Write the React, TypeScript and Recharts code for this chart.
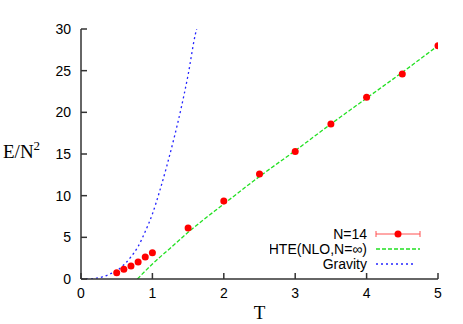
import {
  ComposedChart,
  Line,
  XAxis,
  YAxis,
  Legend,
} from 'recharts'

// lattice data, N=14
const T_N14 = [0.5, 0.6, 0.7, 0.8, 0.9, 1.0, 1.5, 2, 2.5, 3, 3.5, 4, 4.5, 5]
const E_N14 = [0.75, 1.16, 1.56, 2.04, 2.64, 3.16, 6.12, 9.36, 12.6, 15.3, 18.6, 21.8, 24.6, 28.0]

// high temperature expansion (NLO, N=inf)
const T_HTE = [0.79, 1.0, 1.25, 1.5, 2, 2.5, 3, 3.5, 4, 4.5, 5]
const E_HTE = [0, 1.8, 3.7, 5.6, 9.0, 12.3, 15.4, 18.6, 21.7, 24.8, 28.0]

// gravity prediction
const T_GRAV = [0, 0.1, 0.2, 0.3, 0.4, 0.5, 0.6, 0.7, 0.8, 0.9, 1.0, 1.1, 1.2, 1.3, 1.4, 1.5, 1.6, 1.62]
const E_GRAV = [0, 0.01, 0.08, 0.26, 0.58, 1.0, 1.7, 2.65, 3.9, 5.7, 7.8, 10.5, 13.5, 16.8, 20.4, 24.5, 29.3, 30]

const X_TICKS = [0, 1, 2, 3, 4, 5]
const Y_TICKS = [0, 5, 10, 15, 20, 25, 30]

const zip = (ts: number[], es: number[]) => ts.map((t, i) => ({ t, e: es[i] }))

const n14 = zip(T_N14, E_N14)
const hte = zip(T_HTE, E_HTE)
const grav = zip(T_GRAV, E_GRAV)

const SANS = '"Liberation Sans", Arial, sans-serif'
const SERIF = '"Liberation Serif", "Times New Roman", serif'
const AXIS = '#333'
const RED = '#ff0000'
const GREEN = '#22e022'
const BLUE = '#2424ff'

const tickStyle = { fontSize: 14, fill: '#000', fontFamily: SANS }

function LegendBox() {
  const rowY = [10, 25, 40]
  const tx = 97
  const x1 = 106
  const x2 = 150
  return (
    <svg width={160} height={50} style={{ display: 'block' }}>
      <g fontFamily={SANS} fontSize={14} fill="#000" textAnchor="end">
        <text x={tx} y={rowY[0]} dy="0.35em">N=14</text>
        <text x={tx} y={rowY[1]} dy="0.35em">HTE(NLO,N=∞)</text>
        <text x={tx} y={rowY[2]} dy="0.35em">Gravity</text>
      </g>
      <g stroke="#ff5050" strokeWidth={1}>
        <line x1={x1} x2={x2} y1={rowY[0]} y2={rowY[0]} />
        <line x1={x1} x2={x1} y1={rowY[0] - 3} y2={rowY[0] + 3} />
        <line x1={x2} x2={x2} y1={rowY[0] - 3} y2={rowY[0] + 3} />
      </g>
      <circle cx={(x1 + x2) / 2} cy={rowY[0]} r={3.5} fill={RED} />
      <line x1={x1} x2={x2} y1={rowY[1]} y2={rowY[1]} stroke={GREEN} strokeWidth={1.3} strokeDasharray="4 2" />
      <line x1={x1} x2={x2 - 4} y1={rowY[2]} y2={rowY[2]} stroke={BLUE} strokeWidth={1.3} strokeDasharray="2 3" />
    </svg>
  )
}

export default function App() {
  return (
    <div style={{ position: 'absolute', left: 0, top: 0 }}>
      <ComposedChart
        width={463}
        height={324}
        margin={{ top: 29, right: 25, bottom: 0, left: 0 }}
        style={{ fontFamily: SANS }}
      >
        <XAxis
          xAxisId="b"
          dataKey="t"
          type="number"
          domain={[0, 5]}
          ticks={X_TICKS}
          allowDataOverflow
          height={45}
          tickSize={-6}
          tickMargin={15}
          tick={tickStyle}
          axisLine={{ stroke: AXIS, strokeWidth: 1.5 }}
          tickLine={{ stroke: AXIS, strokeWidth: 1.5 }}
          label={(p: any) => (
            <text
              x={p.viewBox.x + p.viewBox.width / 2}
              y={319}
              textAnchor="middle"
              fontFamily={SERIF}
              fontSize={19}
              fill="#000"
            >
              T
            </text>
          )}
        />
        <XAxis
          xAxisId="t"
          orientation="top"
          dataKey="t"
          type="number"
          domain={[0, 5]}
          ticks={X_TICKS}
          height={0}
          tickSize={-6}
          tick={false}
          axisLine={{ stroke: AXIS, strokeWidth: 1.5 }}
          tickLine={{ stroke: AXIS, strokeWidth: 1.5 }}
        />
        <YAxis
          yAxisId="l"
          dataKey="e"
          type="number"
          domain={[0, 30]}
          ticks={Y_TICKS}
          allowDataOverflow
          width={81}
          tickSize={-6}
          tickMargin={16}
          tick={tickStyle}
          axisLine={{ stroke: AXIS, strokeWidth: 1.5 }}
          tickLine={{ stroke: AXIS, strokeWidth: 1.5 }}
          label={() => (
            <text x={3} y={158} fontFamily={SERIF} fontSize={19} fill="#000">
              E/N
              <tspan fontSize={13} dy={-8}>2</tspan>
            </text>
          )}
        />
        <YAxis
          yAxisId="r"
          orientation="right"
          dataKey="e"
          type="number"
          domain={[0, 30]}
          ticks={Y_TICKS}
          width={0}
          tickSize={-6}
          tick={false}
          axisLine={{ stroke: AXIS, strokeWidth: 1.5 }}
          tickLine={{ stroke: AXIS, strokeWidth: 1.5 }}
        />
        <Line
          xAxisId="b"
          yAxisId="l"
          data={grav}
          dataKey="e"
          type="monotone"
          stroke={BLUE}
          strokeWidth={1.3}
          strokeDasharray="2 3"
          dot={false}
          activeDot={false}
          isAnimationActive={false}
        />
        <Line
          xAxisId="b"
          yAxisId="l"
          data={hte}
          dataKey="e"
          type="monotone"
          stroke={GREEN}
          strokeWidth={1.3}
          strokeDasharray="4 2"
          dot={false}
          activeDot={false}
          isAnimationActive={false}
        />
        <Line
          xAxisId="b"
          yAxisId="l"
          data={n14}
          dataKey="e"
          stroke="none"
          dot={{ r: 3.5, fill: RED, stroke: 'none' }}
          activeDot={false}
          isAnimationActive={false}
        />
        <Legend
          layout="horizontal"
          verticalAlign="middle"
          content={() => <LegendBox />}
          wrapperStyle={{ left: 270, top: 224, width: 160 }}
        />
      </ComposedChart>
    </div>
  )
}
